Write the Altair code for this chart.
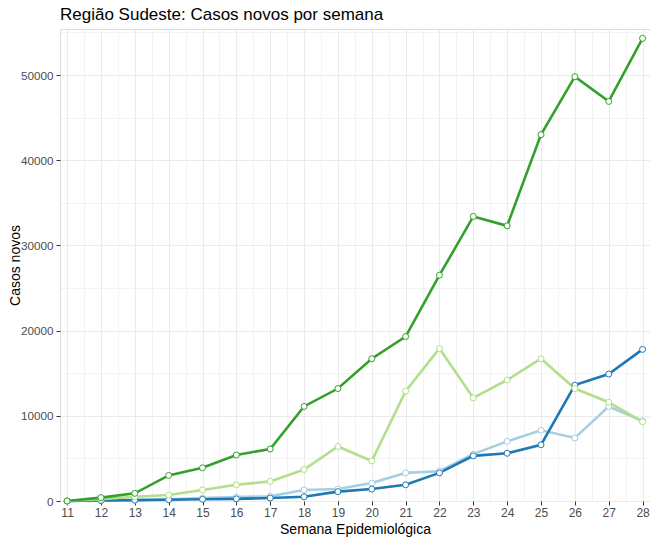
import altair as alt
import pandas as pd

semanas = list(range(11, 29))
series = ["ES", "MG", "RJ", "SP"]
cores = ["#A6CEE3", "#1F78B4", "#B2DF8A", "#33A02C"]

es = [0, 30, 100, 200, 350, 450, 550, 1300, 1400, 2100, 3300, 3500, 5500, 7000, 8300, 7400, 11100, 9400]
mg = [0, 50, 100, 150, 200, 250, 350, 500, 1100, 1400, 1900, 3300, 5300, 5600, 6600, 13600, 14900, 17800]
rj = [0, 200, 500, 700, 1300, 1900, 2300, 3700, 6400, 4700, 12900, 17900, 12100, 14200, 16700, 13200, 11600, 9300]
sp = [0, 400, 900, 3000, 3900, 5400, 6100, 11100, 13200, 16700, 19300, 26500, 33400, 32300, 43000, 49800, 46900, 54300]

x_grid = [v / 2 for v in range(22, 57)]
y_grid = list(range(0, 55001, 5000))

rows = []
for nome, vals in zip(series, [es, mg, rj, sp]):
    for s, v in zip(semanas, vals):
        rows.append({"semana": s, "casos": v, "estado": nome})
df = pd.DataFrame(rows)

font = "Liberation Sans"

x_enc = alt.X(
    "semana:Q",
    title="Semana Epidemiológica",
    scale=alt.Scale(domain=[10.79, 28.22], nice=False, zero=False),
    axis=alt.Axis(
        values=x_grid,
        labelExpr="(datum.value % 1 == 0) ? format(datum.value, 'd') : ''",
        labelOverlap=False,
        labelFlush=False,
        tickOpacity={"condition": {"test": "datum.value % 1 != 0", "value": 0}, "value": 1},
        gridWidth={"condition": {"test": "datum.value % 1 != 0", "value": 0.6}, "value": 1},
        gridColor="#EBEBEB",
        tickColor="#333333",
        tickSize=4,
        labelColor="#4D4D4D",
        labelFontSize=12,
        labelFont=font,
        labelPadding=2,
        titleFont=font,
        titleFontSize=14,
        titleFontWeight="normal",
        titleColor="#000000",
        titlePadding=4,
        domain=False,
    ),
)
y_enc = alt.Y(
    "casos:Q",
    title="Casos novos",
    scale=alt.Scale(domain=[0, 55400], nice=False),
    axis=alt.Axis(
        values=y_grid,
        labelExpr="(datum.value % 10000 == 0) ? format(datum.value, 'd') : ''",
        labelOverlap=False,
        labelFlush=False,
        tickOpacity={"condition": {"test": "datum.value % 10000 != 0", "value": 0}, "value": 1},
        gridWidth={"condition": {"test": "datum.value % 10000 != 0", "value": 0.6}, "value": 1},
        gridColor="#EBEBEB",
        tickColor="#333333",
        tickSize=4,
        labelColor="#4D4D4D",
        labelFontSize=11.7,
        labelFont=font,
        labelPadding=3,
        titleFont=font,
        titleFontSize=14,
        titleFontWeight="normal",
        titleColor="#000000",
        titlePadding=-2,
        domain=False,
    ),
)
cor_scale = alt.Scale(domain=series, range=cores)

base = alt.Chart(df).encode(x=x_enc, y=y_enc)
linhas = base.mark_line(strokeWidth=2.6).encode(
    color=alt.Color("estado:N", scale=cor_scale, legend=None)
)
pontos = base.mark_point(
    shape="circle", fill="white", fillOpacity=1, size=36, strokeWidth=1, opacity=1
).encode(
    stroke=alt.Stroke("estado:N", scale=cor_scale, legend=None),
)

chart = (
    alt.layer(linhas, pontos)
    .properties(
        width=590,
        height=472,
        title=alt.TitleParams(
            "Região Sudeste: Casos novos por semana",
            anchor="start",
            frame="group",
            font=font,
            fontSize=17,
            fontWeight="normal",
            color="#000000",
            offset=3,
        ),
        autosize=alt.AutoSizeParams(type="none"),
        padding={"left": 52, "top": 21, "right": 0, "bottom": 37},
    )
    .configure_view(stroke="#333333", strokeWidth=1)
    .configure(background="white")
)

chart.save("out.html", embed_options={"renderer": "svg", "actions": False})
